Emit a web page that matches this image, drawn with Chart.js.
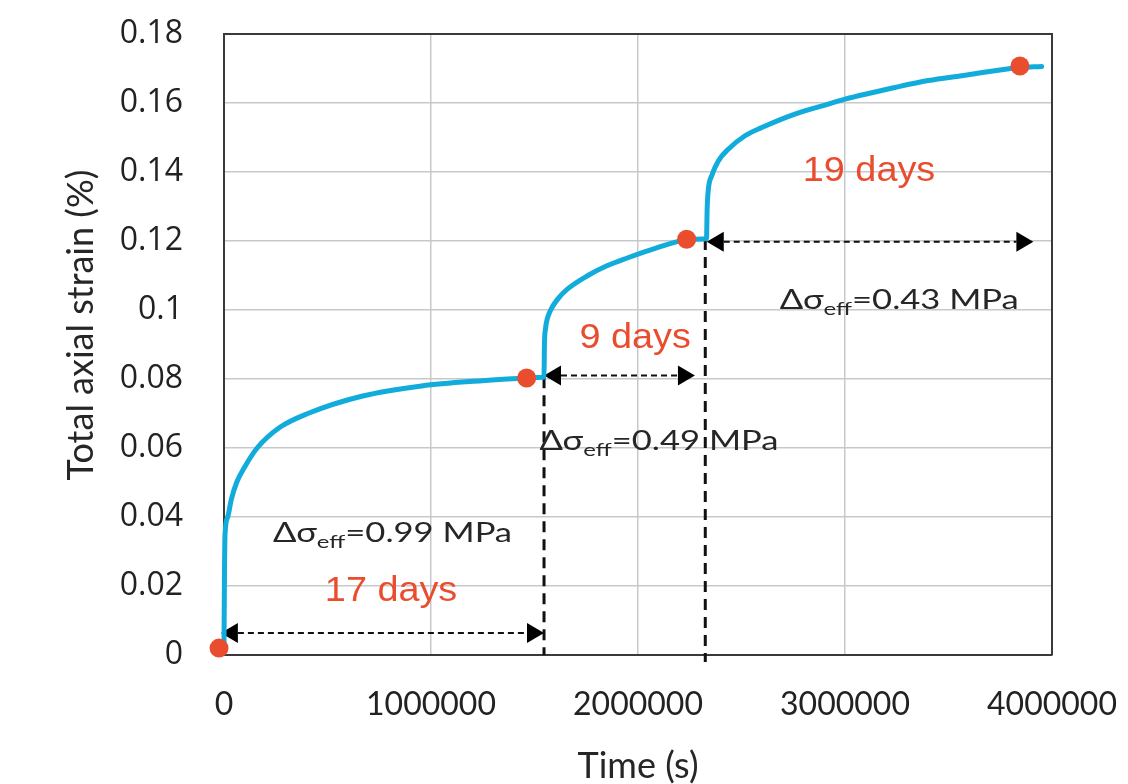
<!DOCTYPE html>
<html><head><meta charset="utf-8">
<script src="https://cdn.jsdelivr.net/npm/chart.js@4/dist/chart.umd.min.js"></script>
<style>html,body{margin:0;padding:0;background:#fff;overflow:hidden}#wrap{width:1128px;height:784px}</style>
</head><body><div id="wrap"><canvas id="c" width="1128" height="784"></canvas></div>
<script>
// ---- data (time in s, strain in %) ----
const stage1Time   = [0, 2500, 5000, 18000, 35000, 61000, 100000, 160000, 270000, 405000, 665000, 955000, 1246000, 1464000, 1540000];
const stage1Strain = [0.003, 0.025, 0.035, 0.04, 0.045, 0.05, 0.0545, 0.06, 0.066, 0.07, 0.075, 0.078, 0.0795, 0.0803, 0.0805];
const stage2Time   = [1546000, 1548000, 1553000, 1562000, 1578000, 1610000, 1660000, 1758000, 1850000, 1945000, 2090000, 2237000, 2314000];
const stage2Strain = [0.0806, 0.09, 0.0945, 0.0975, 0.1, 0.103, 0.1061, 0.11, 0.1128, 0.115, 0.118, 0.1204, 0.1206];
const stage3Time   = [2331000, 2334000, 2340000, 2356000, 2388000, 2436000, 2517000, 2598000, 2758000, 2919000, 3000000, 3242000, 3402000, 3564000, 3845000, 3950000];
const stage3Strain = [0.1207, 0.1292, 0.135, 0.1389, 0.1432, 0.1466, 0.1505, 0.1529, 0.1568, 0.1597, 0.1611, 0.1645, 0.1665, 0.1679, 0.1703, 0.1706];
const markerTime   = [-24000, 1462000, 2235000, 3845000];
const markerStrain = [0.002, 0.0803, 0.1205, 0.1707];

const xTickValues = [0, 1000000, 2000000, 3000000, 4000000];
const xTickLabels = ['0', '1000000', '2000000', '3000000', '4000000'];
const yTickValues = [0, 0.02, 0.04, 0.06, 0.08, 0.1, 0.12, 0.14, 0.16, 0.18];
const yTickLabels = ['0', '0.02', '0.04', '0.06', '0.08', '0.1', '0.12', '0.14', '0.16', '0.18'];

// annotations (data units)
const dropLineTime   = [1546000, 2325000];
const dropLineTop    = [0.0805, 0.1206];
const dropLineBottom = [0, -0.002];
const arrowLevel = [0.0064, 0.081, 0.1198];
const arrowFrom  = [-15000, 1546000, 2332000];
const arrowTo    = [1546000, 2275000, 3910000];
const durationLabels      = ['17 days', '9 days', '19 days'];
const durationLabelTime   = [807000, 1986000, 3116000];
const durationLabelStrain = [0.0157, 0.0891, 0.1373];
const stressValues      = ['0.99', '0.49', '0.43'];
const stressLabelTime   = [237000, 1524000, 2685000];
const stressLabelStrain = [0.0328, 0.0595, 0.1004];

const xTitle = 'Time (s)';
const yTitle = 'Total axial strain (%)';

// ---- build ----
const curve = [];
[[stage1Time, stage1Strain], [stage2Time, stage2Strain], [stage3Time, stage3Strain]].forEach(([t, s]) => {
  t.forEach((v, i) => curve.push({x: v, y: s[i]}));
});
const markers = markerTime.map((v, i) => ({x: v, y: markerStrain[i]}));

const RED = '#ea4c2e';
const INK = '#262626';

function drawStretched(ctx, parts, x, y, sx, align) {
  let w = 0;
  parts.forEach(p => { ctx.font = p.font; p.w = ctx.measureText(p.text).width; w += p.w; });
  const startX = align === 'center' ? x - w * sx / 2 : x;
  ctx.save();
  ctx.translate(startX, y);
  ctx.scale(sx, 1);
  ctx.textAlign = 'left';
  ctx.textBaseline = 'alphabetic';
  let cx = 0;
  parts.forEach(p => { ctx.font = p.font; ctx.fillStyle = p.color; ctx.fillText(p.text, cx, p.dy || 0); cx += p.w; });
  ctx.restore();
}

const annot = {
  id: 'annot',
  beforeDatasetsDraw(chart) {
    const {ctx, chartArea: a, scales: {x, y}} = chart;
    ctx.save();
    // top/right frame
    ctx.strokeStyle = '#3a3a3a'; ctx.lineWidth = 2;
    ctx.beginPath(); ctx.moveTo(a.left, a.top); ctx.lineTo(a.right, a.top); ctx.lineTo(a.right, a.bottom); ctx.stroke();

    // vertical dashed drop lines
    ctx.strokeStyle = '#111'; ctx.lineWidth = 3; ctx.setLineDash([11, 7]);
    dropLineTime.forEach((t, i) => {
      const px = x.getPixelForValue(t);
      ctx.beginPath();
      ctx.moveTo(px, y.getPixelForValue(dropLineTop[i]));
      ctx.lineTo(px, y.getPixelForValue(dropLineBottom[i]));
      ctx.stroke();
    });

    // double arrows
    const headL = 17, headH = 10;
    arrowLevel.forEach((lv, i) => {
      const py = y.getPixelForValue(lv);
      const x1 = x.getPixelForValue(arrowFrom[i]);
      const x2 = x.getPixelForValue(arrowTo[i]);
      ctx.setLineDash([6, 4]); ctx.lineWidth = 2; ctx.strokeStyle = '#111';
      ctx.beginPath(); ctx.moveTo(x1 + headL, py); ctx.lineTo(x2 - headL, py); ctx.stroke();
      ctx.setLineDash([]); ctx.fillStyle = '#000';
      ctx.beginPath(); ctx.moveTo(x1, py); ctx.lineTo(x1 + headL, py - headH); ctx.lineTo(x1 + headL, py + headH); ctx.closePath(); ctx.fill();
      ctx.beginPath(); ctx.moveTo(x2, py); ctx.lineTo(x2 - headL, py - headH); ctx.lineTo(x2 - headL, py + headH); ctx.closePath(); ctx.fill();
    });
    ctx.setLineDash([]);

    // stress labels
    stressValues.forEach((v, i) => {
      const px = x.getPixelForValue(stressLabelTime[i]);
      const py = y.getPixelForValue(stressLabelStrain[i]);
      drawStretched(ctx, [
        {text: '\u0394\u03c3', font: '26px Lato', color: INK},
        {text: 'eff', font: '18px Lato', color: INK, dy: 6},
        {text: '=' + v + ' MPa', font: '26px Lato', color: INK}
      ], px, py, 1.33, 'left');
    });

    // duration labels
    durationLabels.forEach((s, i) => {
      const px = x.getPixelForValue(durationLabelTime[i]);
      const py = y.getPixelForValue(durationLabelStrain[i]);
      drawStretched(ctx, [{text: s, font: '35px "Liberation Sans"', color: RED}], px, py, 1.08, 'center');
    });

    // y title
    ctx.save();
    ctx.translate(81, 325);
    ctx.rotate(-Math.PI / 2);
    ctx.font = '36px Lato'; ctx.fillStyle = INK; ctx.textAlign = 'center'; ctx.textBaseline = 'middle';
    ctx.fillText(yTitle, 0, 0);
    ctx.restore();

    ctx.restore();
  }
};

new Chart(document.getElementById('c'), {
  data: {
    datasets: [
      {type: 'scatter', data: markers, backgroundColor: RED, borderWidth: 0, pointRadius: 9.5, pointHoverRadius: 9.5, clip: false, order: 0},
      {type: 'line', data: curve, borderColor: '#12acdc', borderWidth: 5, pointRadius: 0, fill: false,
       cubicInterpolationMode: 'monotone', borderJoinStyle: 'round', borderCapStyle: 'round', clip: false, order: 1}
    ]
  },
  options: {
    responsive: false,
    devicePixelRatio: 1,
    animation: false,
    events: [],
    layout: {padding: {left: 0, top: 34, right: 76, bottom: 0}},
    plugins: {legend: {display: false}, tooltip: {enabled: false}},
    scales: {
      x: {
        type: 'linear', min: 0, max: 4000000,
        afterBuildTicks: s => { s.ticks = xTickValues.map(v => ({value: v})); },
        afterFit: s => { s.height = 129; },
        ticks: {
          callback: (v) => { const i = xTickValues.indexOf(v); return i >= 0 ? xTickLabels[i] : ''; },
          font: {family: 'Lato', size: 32}, color: '#222', padding: 8, maxRotation: 0, autoSkip: false
        },
        grid: {color: '#c6c9cb', lineWidth: 1.5, drawTicks: true, tickLength: 22, tickColor: 'rgba(0,0,0,0)'},
        border: {display: true, color: '#3a3a3a', width: 2},
        title: {display: true, text: xTitle, font: {family: 'Lato', size: 36, lineHeight: 1}, color: INK, padding: {top: 0, bottom: 0}}
      },
      y: {
        type: 'linear', min: 0, max: 0.18,
        afterBuildTicks: s => { s.ticks = yTickValues.map(v => ({value: v})); },
        afterFit: s => { s.width = 224; },
        ticks: {
          callback: (v) => { const i = yTickValues.findIndex(t => Math.abs(t - v) < 1e-9); return i >= 0 ? yTickLabels[i] : ''; },
          font: {family: '"Open Sans"', size: 32}, color: '#222', padding: 10, autoSkip: false
        },
        grid: {color: '#c6c9cb', lineWidth: 1.5, drawTicks: true, tickLength: 31, tickColor: 'rgba(0,0,0,0)'},
        border: {display: true, color: '#3a3a3a', width: 2}
      }
    }
  },
  plugins: [annot]
});
</script>
</body></html>
